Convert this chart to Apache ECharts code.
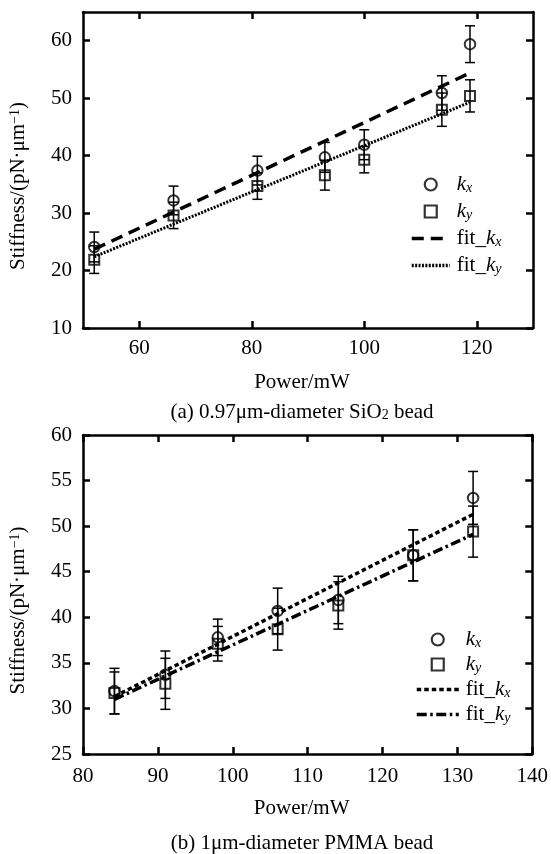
<!DOCTYPE html>
<html><head><meta charset="utf-8">
<script src="https://cdn.jsdelivr.net/npm/echarts@6/dist/echarts.min.js"></script>
<style>html,body{margin:0;padding:0;background:#fff}#c{width:551px;height:854px}</style>
</head><body><div id="c"></div>
<script>
// ---- (a) 0.97um SiO2 bead ----
const powerA  = [52.0, 66.1, 81.0, 93.0, 100.0, 113.8, 118.8];
const kxA     = [24.1, 32.2, 37.4, 39.7, 41.9, 50.9, 59.4];
const kxErrA  = [2.6, 2.5, 2.5, 2.6, 2.6, 3.0, 3.2];
const kyA     = [21.9, 29.6, 34.7, 36.6, 39.3, 48.0, 50.4];
const kyErrA  = [2.4, 2.3, 2.3, 2.6, 2.3, 2.9, 2.8];
const fitXA   = [52.0, 118.8];
const fitKxA  = [23.7, 54.4];
const fitKyA  = [22.4, 49.3];
const tickXA  = [60, 80, 100, 120];
const tickYA  = [10, 20, 30, 40, 50, 60];
// ---- (b) 1um PMMA bead ----
const powerB  = [84.2, 91.0, 98.0, 106.0, 114.1, 124.1, 132.1];
const kxB     = [31.9, 33.7, 37.8, 40.7, 41.9, 46.8, 53.1];
const kxErrB  = [2.5, 2.6, 2.0, 2.5, 2.6, 2.8, 2.9];
const kyB     = [31.7, 32.7, 37.1, 38.7, 41.3, 46.8, 49.4];
const kyErrB  = [2.3, 2.8, 1.9, 2.3, 2.6, 2.8, 2.8];
const fitXB   = [84.2, 132.1];
const fitKxB  = [31.3, 51.3];
const fitKyB  = [31.0, 49.1];
const tickXB  = [80, 90, 100, 110, 120, 130, 140];
const tickYB  = [25, 30, 35, 40, 45, 50, 55, 60];

const FONT = '"Liberation Serif","Times New Roman",serif';
const FS = 21;
const rich = {
  n:   {fontFamily: FONT, fontSize: FS, lineHeight: FS, verticalAlign: 'top', color: '#000'},
  ik:  {fontFamily: FONT, fontSize: FS, lineHeight: FS, verticalAlign: 'top', fontStyle: 'italic', color: '#000'},
  sub: {fontFamily: FONT, fontSize: 14, lineHeight: 14, verticalAlign: 'bottom', fontStyle: 'italic', padding: [12, 0, 0, 0], color: '#000'},
  subr:{fontFamily: FONT, fontSize: 14, lineHeight: 14, verticalAlign: 'bottom', padding: [12, 0, 0, 0], color: '#000'},
  nb:  {fontFamily: FONT, fontSize: FS, lineHeight: FS, verticalAlign: 'bottom', color: '#000'},
  sup: {fontFamily: FONT, fontSize: 14, lineHeight: 14, verticalAlign: 'top', padding: [0, 0, 8, 0], color: '#000'}
};
const legendText = {
  kxA: '{ik|k}{sub|x}', kyA: '{ik|k}{sub|y}', fitKxA: '{n|fit_}{ik|k}{sub|x}', fitKyA: '{n|fit_}{ik|k}{sub|y}',
  kxB: '{ik|k}{sub|x}', kyB: '{ik|k}{sub|y}', fitKxB: '{n|fit_}{ik|k}{sub|x}', fitKyB: '{n|fit_}{ik|k}{sub|y}'
};

const chart = echarts.init(document.getElementById('c'));
const zip2 = (xs, ys) => xs.map((x, i) => [x, ys[i]]);
const zip3 = (xs, ys, es) => xs.map((x, i) => [x, ys[i], es[i]]);
const CLEAR = 'rgba(0,0,0,0)';

function errSeries(name, data, ai) {
  return {
    type: 'custom', name, xAxisIndex: ai * 2, yAxisIndex: ai * 2, data, encode: {x: 0, y: 1}, z: 2, silent: true,
    renderItem: (p, api) => {
      const x = api.value(0), y = api.value(1), e = api.value(2);
      const a = api.coord([x, y - e]), b = api.coord([x, y + e]);
      const w = 5, st = {stroke: '#000', lineWidth: 1.5};
      return {type: 'group', children: [
        {type: 'line', shape: {x1: a[0], y1: a[1], x2: b[0], y2: b[1]}, style: st},
        {type: 'line', shape: {x1: a[0] - w, y1: a[1], x2: a[0] + w, y2: a[1]}, style: st},
        {type: 'line', shape: {x1: b[0] - w, y1: b[1], x2: b[0] + w, y2: b[1]}, style: st}
      ]};
    }
  };
}
function scatterSeries(name, data, ai, symbol) {
  return {type: 'scatter', name, xAxisIndex: ai * 2, yAxisIndex: ai * 2, data, symbol, symbolSize: symbol === 'rect' ? 10 : 10.5,
    itemStyle: {color: CLEAR, borderColor: '#000', borderWidth: 2}, z: 4, silent: true};
}
function fitSeries(name, data, ai, dash, width) {
  return {type: 'line', name, xAxisIndex: ai * 2, yAxisIndex: ai * 2, data, symbol: 'none', showSymbol: false, z: 3, silent: true,
    itemStyle: {color: CLEAR, borderColor: CLEAR, borderWidth: 0},
    lineStyle: {color: '#000', width, type: dash, cap: 'butt'}};
}

const axisLine = {show: true, onZero: false, lineStyle: {color: '#000', width: 2.5}};
const tick = vals => ({show: true, inside: true, length: 7, lineStyle: {color: '#000', width: 2.5}, customValues: vals});
const lbl = (vals, margin) => ({show: true, color: '#000', fontFamily: FONT, fontSize: FS, margin, customValues: vals});
const nolbl = {show: false};

function xAxes(gi, min, max, ticks, margin) {
  return [
    {type: 'value', gridIndex: gi, position: 'bottom', min, max, axisLine, axisTick: tick(ticks), axisLabel: lbl(ticks, margin),
     splitLine: {show: false}, name: 'Power/mW', nameLocation: 'middle', nameGap: 44,
     nameTextStyle: {color: '#000', fontFamily: FONT, fontSize: FS, padding: [0, 12, 0, 0]}},
    {type: 'value', gridIndex: gi, position: 'top', min, max, axisLine, axisTick: tick(ticks), axisLabel: nolbl, splitLine: {show: false}}
  ];
}
function yAxes(gi, min, max, ticks) {
  return [
    {type: 'value', gridIndex: gi, position: 'left', min, max, axisLine, axisTick: tick(ticks), axisLabel: lbl(ticks, 11),
     splitLine: {show: false}, name: '{nb|Stiffness/(pN·μm}{sup|−1}{nb|)}', nameLocation: 'middle', nameGap: 54,
     nameTextStyle: {color: '#000', fontFamily: FONT, fontSize: FS, rich, padding: [0, 32, 0, 0]}},
    {type: 'value', gridIndex: gi, position: 'right', min, max, axisLine, axisTick: tick(ticks), axisLabel: nolbl, splitLine: {show: false}}
  ];
}
const SQUARE = 'path://M0,0H10V10H0Z';
function legend(names, left, top, itemWidth, gap) {
  return {
    orient: 'vertical', left, top, padding: 0, itemWidth, itemHeight: 12, itemGap: gap, selectedMode: false,
    symbolKeepAspect: true,
    textStyle: {color: '#000', fontFamily: FONT, fontSize: FS, rich, padding: [0, 0, 0, 2]},
    formatter: n => legendText[n],
    data: [
      {name: names[0], icon: 'circle', itemStyle: {color: CLEAR, borderColor: '#000', borderWidth: 2.2}},
      {name: names[1], icon: SQUARE, itemStyle: {color: CLEAR, borderColor: '#000', borderWidth: 2.2}},
      {name: names[2], lineStyle: {width: 3.5}, itemStyle: {color: CLEAR, borderColor: CLEAR, borderWidth: 0}},
      {name: names[3], lineStyle: {width: 3.5}, itemStyle: {color: CLEAR, borderColor: CLEAR, borderWidth: 0}}
    ]
  };
}

chart.setOption({
  animation: false,
  backgroundColor: '#fff',
  grid: [
    {left: 83, right: 18, top: 12, height: 316},
    {left: 83, right: 18, top: 435, height: 319}
  ],
  xAxis: [...xAxes(0, 50, 130, tickXA, 10), ...xAxes(1, 80, 140, tickXB, 12)],
  yAxis: [...yAxes(0, 10, 65, tickYA), ...yAxes(1, 25, 60, tickYB)],
  legend: [
    legend(['kxA', 'kyA', 'fitKxA', 'fitKyA'], 410, 169, 38, 1),
    legend(['kxB', 'kyB', 'fitKxB', 'fitKyB'], 415, 624, 42, -1),
  ],
  graphic: [
    {type: 'text', x: 302, y: 412, style: {text: '{n|(a) 0.97μm-diameter SiO}{subr|2}{n| bead}', rich, align: 'center', verticalAlign: 'middle', fontFamily: FONT, fontSize: FS}},
    {type: 'text', x: 302, y: 843, style: {text: '{n|(b) 1μm-diameter PMMA bead}', rich, align: 'center', verticalAlign: 'middle', fontFamily: FONT, fontSize: FS}}
  ],
  series: [
    errSeries('errKxA', zip3(powerA, kxA, kxErrA), 0),
    errSeries('errKyA', zip3(powerA, kyA, kyErrA), 0),
    fitSeries('fitKxA', zip2(fitXA, fitKxA), 0, [12, 7], 3.5),
    fitSeries('fitKyA', zip2(fitXA, fitKyA), 0, [2, 1.4], 3),
    scatterSeries('kxA', zip2(powerA, kxA), 0, 'circle'),
    scatterSeries('kyA', zip2(powerA, kyA), 0, 'rect'),
    errSeries('errKxB', zip3(powerB, kxB, kxErrB), 1),
    errSeries('errKyB', zip3(powerB, kyB, kyErrB), 1),
    fitSeries('fitKxB', zip2(fitXB, fitKxB), 1, [4.5, 3], 3.5),
    fitSeries('fitKyB', zip2(fitXB, fitKyB), 1, [10, 3.5, 2.5, 3.5], 3.5),
    scatterSeries('kxB', zip2(powerB, kxB), 1, 'circle'),
    scatterSeries('kyB', zip2(powerB, kyB), 1, 'rect')
  ]
});
</script></body></html>
